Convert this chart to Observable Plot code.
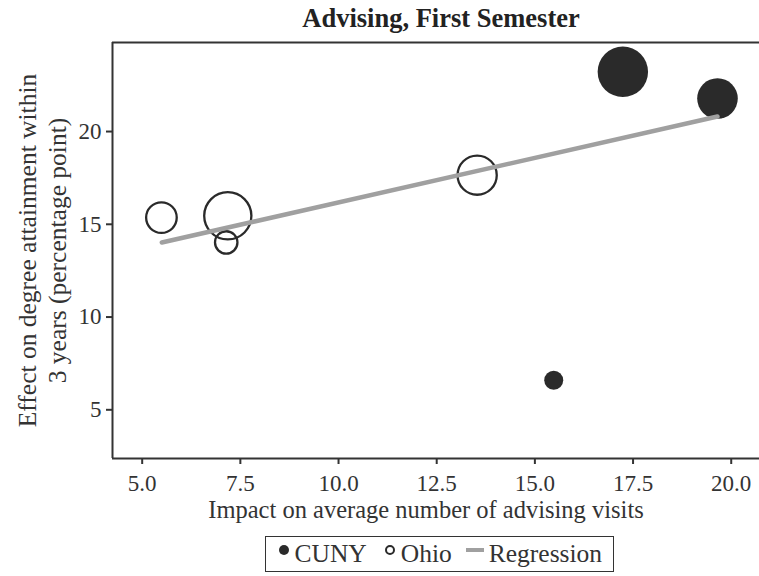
<!DOCTYPE html>
<html><head><meta charset="utf-8">
<script src="https://cdn.jsdelivr.net/npm/d3@7"></script>
<script src="https://cdn.jsdelivr.net/npm/@observablehq/plot@0.6"></script>
<style>
body{margin:0;background:#fff;font-family:"Liberation Serif","Times New Roman",serif;color:#333;}
#wrap{position:relative;width:759px;height:576px;overflow:hidden;}
#title{position:absolute;left:112px;width:658px;top:0;height:36px;line-height:36px;text-align:center;font-weight:bold;font-size:26.5px;color:#222;}
#chart{position:absolute;left:0;top:36px;}
#chart svg, #chart svg text{font-family:"Liberation Serif","Times New Roman",serif !important;}
#legend{position:absolute;left:265px;top:536px;height:34px;line-height:34px;border:1.5px solid #333;padding:0 11px 0 11.5px;font-size:25.5px;white-space:nowrap;}
#legend svg{vertical-align:6px;}
#legend .lab{margin-left:5px;}
</style>
</head><body>
<div id="wrap">
<div id="title">Advising, First Semester</div>
<div id="chart"></div>
<div id="legend"></div>
</div>
<script>
// Data
const ohioX = [5.49, 7.18, 7.14, 13.53];
const ohioY = [15.36, 15.46, 14.02, 17.65];
const ohioW = [369, 877, 198, 605];   // relative bubble weight
const cunyX = [15.48, 17.24, 19.65];
const cunyY = [6.59, 23.22, 21.78];
const cunyW = [142, 1000, 649];
const regX = [5.5, 19.65];
const regY = [14.02, 20.81];
const xTicks = [5, 7.5, 10, 12.5, 15, 17.5, 20];
const yTicks = [5, 10, 15, 20];
const xDomain = [4.244, 20.72];
const yDomain = [2.375, 24.8];
const seriesNames = ["CUNY", "Ohio", "Regression"];
const xLabel = "Impact on average number of advising visits";
const yLabel = "Effect on degree attainment within\n3 years (percentage point)";

const ohio = ohioX.map((x, i) => ({x, y: ohioY[i], w: ohioW[i]}));
const cuny = cunyX.map((x, i) => ({x, y: cunyY[i], w: cunyW[i]}));
const reg = regX.map((x, i) => ({x, y: regY[i]}));

const ink = "#333";
const dark = "#2a2a2a";
const grey = "#a0a0a0";
const serif = "Liberation Serif";

const chart = Plot.plot({
  width: 759, height: 492,
  marginLeft: 112, marginRight: 0, marginTop: 6, marginBottom: 70,
  style: {fontFamily: serif, fontSize: "23px", color: ink, background: "#fff", overflow: "visible"},
  x: {domain: xDomain},
  y: {domain: yDomain},
  r: {type: "sqrt", domain: [0, 1000], range: [0, 25.2]},
  marks: [
    Plot.axisX({ticks: xTicks, tickFormat: d3.format(".1f"), tickSize: 6, tickPadding: 10, strokeWidth: 2, label: null, fontSize: 23, fontFamily: serif}),
    Plot.axisY({ticks: yTicks, tickSize: 6, tickPadding: 5, strokeWidth: 2, label: null, fontSize: 23, fontFamily: serif}),
    Plot.ruleY([yDomain[0]], {stroke: ink, strokeWidth: 2}),
    Plot.ruleY([yDomain[1]], {stroke: ink, strokeWidth: 2}),
    Plot.ruleX([xDomain[0]], {stroke: ink, strokeWidth: 2}),
    Plot.dot(ohio, {x: "x", y: "y", r: "w", stroke: dark, strokeWidth: 2.3, fill: "none"}),
    Plot.dot(cuny, {x: "x", y: "y", r: "w", fill: dark, stroke: "none"}),
    Plot.line(reg, {x: "x", y: "y", stroke: grey, strokeWidth: 4.5}),
    Plot.text([xLabel], {frameAnchor: "bottom", dy: 59, dx: -10, lineAnchor: "bottom", fontSize: 24.5, fontFamily: serif, fill: ink}),
    Plot.text([yLabel], {frameAnchor: "left", rotate: -90, dx: -47, lineAnchor: "bottom", lineHeight: 1.17, fontSize: 25.5, fontFamily: serif, textAnchor: "middle", fill: ink})
  ]
});
document.getElementById("chart").appendChild(chart);

// Legend
const sym = {
  CUNY: `<svg width="12" height="12"><circle cx="6" cy="6" r="5" fill="${dark}"/></svg>`,
  Ohio: `<svg width="12" height="12"><circle cx="6" cy="6" r="4" fill="none" stroke="${dark}" stroke-width="2"/></svg>`,
  Regression: `<svg width="18" height="12"><rect x="0" y="4" width="18" height="4" fill="${grey}"/></svg>`
};
const gaps = {CUNY: 0, Ohio: 17, Regression: 14};
document.getElementById("legend").innerHTML = seriesNames.map(n =>
  `<span style="margin-left:${gaps[n]}px">${sym[n]}</span><span class="lab">${n}</span>`
).join("");
</script>
</body></html>
